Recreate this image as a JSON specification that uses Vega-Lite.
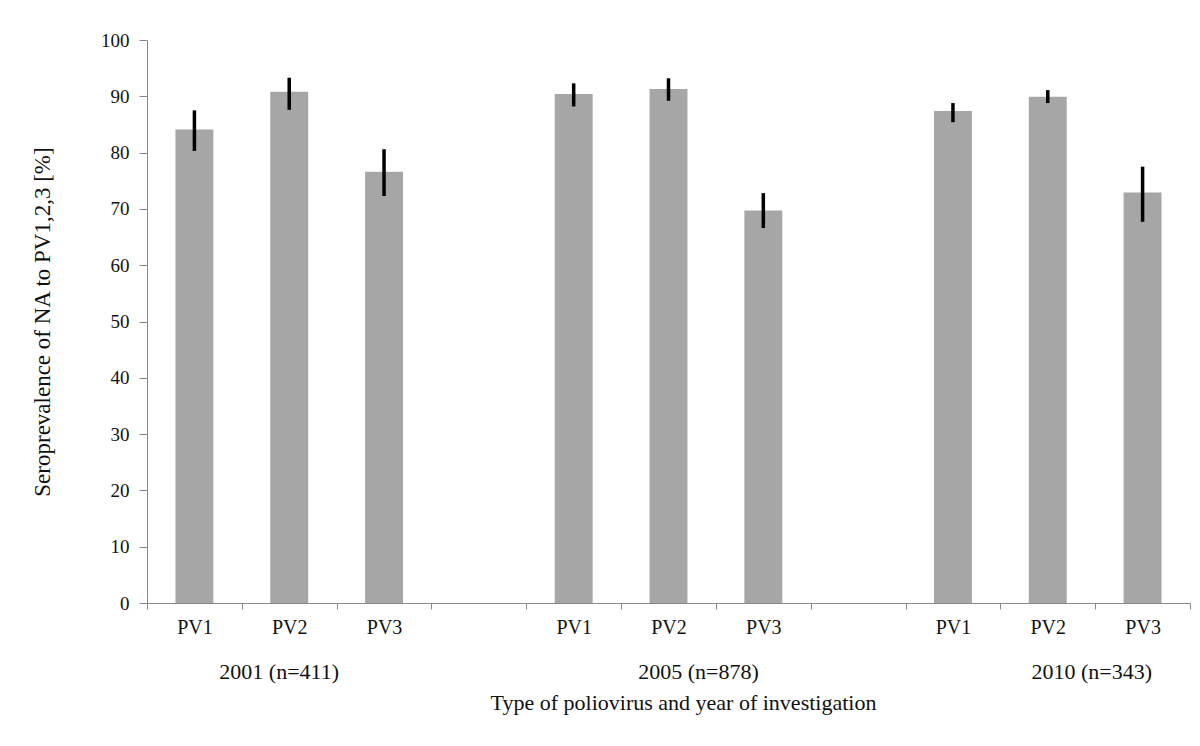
{
  "$schema": "https://vega.github.io/schema/vega-lite/v6.json",
  "width": 1043,
  "height": 563,
  "autosize": {"type": "none"},
  "padding": {"left": 147, "top": 40, "right": 10, "bottom": 143},
  "background": "white",
  "config": {
    "view": {"stroke": null},
    "font": "Liberation Serif",
    "style": {
      "guide-label": {"font": "Liberation Serif", "fill": "#111111"},
      "guide-title": {"font": "Liberation Serif", "fill": "#111111", "fontWeight": "normal"}
    },
    "axis": {"grid": false, "domainColor": "#888888", "tickColor": "#888888", "labelColor": "#111111", "titleColor": "#111111", "labelFont": "Liberation Serif", "titleFont": "Liberation Serif", "titleFontWeight": "normal"}
  },
  "data": {
    "values": [
      {"slot": "2001 PV1", "pct": 84.1, "lo": 80.3, "hi": 87.5, "label": ""},
      {"slot": "2001 PV2", "pct": 90.8, "lo": 87.6, "hi": 93.3, "label": "2001 (n=411)"},
      {"slot": "2001 PV3", "pct": 76.6, "lo": 72.3, "hi": 80.6, "label": ""},
      {"slot": "2005 PV1", "pct": 90.4, "lo": 88.2, "hi": 92.3, "label": ""},
      {"slot": "2005 PV2", "pct": 91.3, "lo": 89.2, "hi": 93.2, "label": "2005 (n=878)"},
      {"slot": "2005 PV3", "pct": 69.7, "lo": 66.6, "hi": 72.8, "label": ""},
      {"slot": "2010 PV1", "pct": 87.4, "lo": 85.4, "hi": 88.8, "label": ""},
      {"slot": "2010 PV2", "pct": 89.9, "lo": 88.8, "hi": 91.1, "label": "2010 (n=343)"},
      {"slot": "2010 PV3", "pct": 72.9, "lo": 67.7, "hi": 77.5, "label": ""}
    ]
  },
  "encoding": {
    "x": {
      "field": "slot",
      "type": "nominal",
      "sort": null,
      "scale": {
        "domain": ["2001 PV1", "2001 PV2", "2001 PV3", "gap1", "2005 PV1", "2005 PV2", "2005 PV3", "gap2", "2010 PV1", "2010 PV2", "2010 PV3"],
        "paddingInner": 0,
        "paddingOuter": 0
      },
      "axis": {
        "title": "Type of poliovirus and year of investigation",
        "titleFont": "Liberation Serif",
        "titleFontWeight": "normal",
        "titleFontSize": 22,
        "titlePadding": 55,
        "titleX": 536,
        "labelFont": "Liberation Serif",
        "labelAngle": 0,
        "labelFontSize": 20,
        "labelPadding": 8,
        "tickSize": 6,
        "tickBand": "extent",
        "labelExpr": "isString(datum.value) && indexof(datum.value, 'gap') < 0 ? split(datum.value, ' ')[1] : ''"
      }
    }
  },
  "layer": [
    {
      "mark": {"type": "bar", "color": "#A6A6A6", "width": {"band": 0.4}},
      "encoding": {
        "y": {
          "field": "pct",
          "type": "quantitative",
          "scale": {"domain": [0, 100], "nice": false},
          "axis": {
            "title": "Seroprevalence of NA to PV1,2,3 [%]",
            "titleFont": "Liberation Serif",
            "titleFontWeight": "normal",
            "titleFontSize": 23,
            "titlePadding": 46,
            "values": [0, 10, 20, 30, 40, 50, 60, 70, 80, 90, 100],
            "labelFont": "Liberation Serif",
            "labelFontSize": 19,
            "labelPadding": 10,
            "tickSize": 8
          }
        }
      }
    },
    {
      "mark": {"type": "rule", "color": "#000000", "strokeWidth": 3.5},
      "encoding": {
        "y": {"field": "lo", "type": "quantitative"},
        "y2": {"field": "hi"}
      }
    },
    {
      "transform": [{"filter": "datum.slot == '2001 PV2'"}],
      "mark": {"type": "text", "font": "Liberation Serif", "fontSize": 22, "color": "#111111", "baseline": "middle", "dx": -10},
      "encoding": {"y": {"datum": -12.25}, "text": {"field": "label"}}
    },
    {
      "transform": [{"filter": "datum.slot == '2005 PV2'"}],
      "mark": {"type": "text", "font": "Liberation Serif", "fontSize": 22, "color": "#111111", "baseline": "middle", "dx": 30},
      "encoding": {"y": {"datum": -12.25}, "text": {"field": "label"}}
    },
    {
      "transform": [{"filter": "datum.slot == '2010 PV2'"}],
      "mark": {"type": "text", "font": "Liberation Serif", "fontSize": 22, "color": "#111111", "baseline": "middle", "dx": 44},
      "encoding": {"y": {"datum": -12.25}, "text": {"field": "label"}}
    }
  ]
}
